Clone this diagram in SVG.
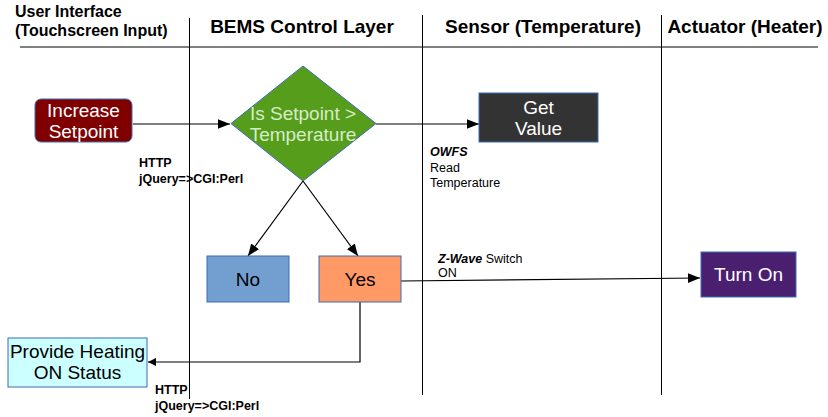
<svg xmlns="http://www.w3.org/2000/svg" width="828" height="417" viewBox="0 0 828 417">
<style>
text{font-family:"Liberation Sans",Arial,sans-serif}
.h{font-weight:bold;font-size:19px;fill:#000}
.hs{font-weight:bold;font-size:16px;fill:#000}
.n{font-size:19px}
.lbl{font-size:12.5px;fill:#000}
.b{font-weight:bold}
.lane{stroke:#000;stroke-width:1;fill:none}
.c{stroke:#000;stroke-width:1.2;fill:none}
.box{stroke:#3d6db5;stroke-width:1}
</style>
<defs>
<marker id="ah" viewBox="0 0 10 10" refX="10" refY="5" markerWidth="8" markerHeight="8" markerUnits="userSpaceOnUse" orient="auto">
<path d="M0,0 L10,5 L0,10 z" fill="#000"/>
</marker>
<marker id="ahb" viewBox="0 0 10 10" refX="10" refY="5" markerWidth="12" markerHeight="12" markerUnits="userSpaceOnUse" orient="auto">
<path d="M0,1 L10,5 L0,9 z" fill="#000"/>
</marker>
</defs>
<rect width="828" height="417" fill="#fff"/>
<g id="lanes">
<line class="lane" x1="20" y1="47" x2="818" y2="47" stroke="#333"/>
<line class="lane" x1="189.5" y1="18" x2="189.5" y2="399"/>
<line class="lane" x1="422.5" y1="15" x2="422.5" y2="395"/>
<line class="lane" x1="661.5" y1="15" x2="661.5" y2="395"/>
<text class="hs" x="15" y="17">User Interface</text>
<text class="hs" x="15" y="36">(Touchscreen Input)</text>
<text class="h" x="302" y="33" text-anchor="middle">BEMS Control Layer</text>
<text class="h" x="543" y="33" text-anchor="middle">Sensor (Temperature)</text>
<text class="h" x="745" y="33" text-anchor="middle">Actuator (Heater)</text>
</g>
<g id="connectors">
<line class="c" x1="133" y1="124" x2="230" y2="124" marker-end="url(#ahb)"/>
<line class="c" x1="376" y1="124" x2="479" y2="124" marker-end="url(#ahb)"/>
<line class="c" x1="303" y1="181" x2="248" y2="256" marker-end="url(#ahb)"/>
<line class="c" x1="303" y1="181" x2="358" y2="256" marker-end="url(#ahb)"/>
<line class="c" x1="401" y1="281" x2="700" y2="278" marker-end="url(#ahb)"/>
<polyline class="c" points="360,302 360,362 148,362" marker-end="url(#ah)"/>
<text class="lbl b" x="139" y="167">HTTP</text>
<text class="lbl b" x="139" y="183">jQuery=&gt;CGI:Perl</text>
<text class="lbl" x="430" y="156" font-weight="bold" font-style="italic">OWFS</text>
<text class="lbl" x="430" y="172">Read</text>
<text class="lbl" x="430" y="187">Temperature</text>
<text class="lbl" x="438" y="263"><tspan font-weight="bold" font-style="italic">Z-Wave</tspan> Switch</text>
<text class="lbl" x="438" y="277">ON</text>
<text class="lbl b" x="155" y="394">HTTP</text>
<text class="lbl b" x="155" y="410">jQuery=&gt;CGI:Perl</text>
</g>
<g id="increase">
<rect class="box" x="35" y="99" width="97" height="43" rx="6" fill="#800000"/>
<text class="n" x="83.5" y="117" text-anchor="middle" fill="#fff">Increase</text>
<text class="n" x="83.5" y="138" text-anchor="middle" fill="#fff">Setpoint</text>
</g>
<g id="decision">
<polygon class="box" points="303,66 376,123.5 303,181 231,123.5" fill="#579d1c"/>
<text class="n" x="303" y="120" text-anchor="middle" fill="#d6ecc8">Is Setpoint &gt;</text>
<text class="n" x="303" y="141" text-anchor="middle" fill="#d6ecc8">Temperature</text>
</g>
<g id="getvalue">
<rect class="box" x="479" y="93" width="119" height="49" fill="#333333"/>
<text class="n" x="538.5" y="114" text-anchor="middle" fill="#fff">Get</text>
<text class="n" x="538.5" y="135" text-anchor="middle" fill="#fff">Value</text>
</g>
<g id="no">
<rect class="box" x="207" y="256" width="82" height="46" fill="#729fcf"/>
<text class="n" x="248" y="286" text-anchor="middle" fill="#000">No</text>
</g>
<g id="yes">
<rect class="box" x="319" y="256" width="82" height="46" fill="#ff9966"/>
<text class="n" x="360" y="286" text-anchor="middle" fill="#000">Yes</text>
</g>
<g id="turnon">
<rect class="box" x="701" y="252" width="95" height="45" fill="#4b1f6f"/>
<text class="n" x="748.5" y="281" text-anchor="middle" fill="#fff">Turn On</text>
</g>
<g id="provide">
<rect class="box" x="8" y="338" width="139" height="49" fill="#ccffff"/>
<text class="n" x="77.5" y="358" text-anchor="middle" fill="#000">Provide Heating</text>
<text class="n" x="77.5" y="379" text-anchor="middle" fill="#000">ON Status</text>
</g>
</svg>
